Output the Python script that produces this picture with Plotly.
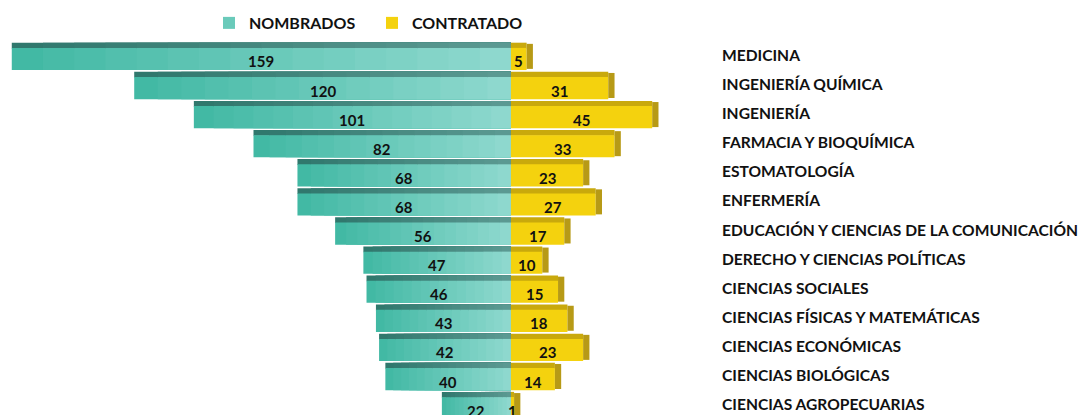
import plotly.graph_objects as go

# datos
categorias = [
    "MEDICINA",
    "INGENIERÍA QUÍMICA",
    "INGENIERÍA",
    "FARMACIA Y BIOQUÍMICA",
    "ESTOMATOLOGÍA",
    "ENFERMERÍA",
    "EDUCACIÓN Y CIENCIAS DE LA COMUNICACIÓN",
    "DERECHO Y CIENCIAS POLÍTICAS",
    "CIENCIAS SOCIALES",
    "CIENCIAS FÍSICAS Y MATEMÁTICAS",
    "CIENCIAS ECONÓMICAS",
    "CIENCIAS BIOLÓGICAS",
    "CIENCIAS AGROPECUARIAS",
]
nombrados = [159, 120, 101, 82, 68, 68, 56, 47, 46, 43, 42, 40, 22]
contratados = [5, 31, 45, 33, 23, 27, 17, 10, 15, 18, 23, 14, 1]

FONT = "Lato"
N_SEG = 16          # tramos para simular el degradado
PROF = 2.0          # profundidad del efecto 3D (en unidades del eje x)


def mezcla(c1, c2, t):
    a = [int(c1[i:i + 2], 16) for i in (1, 3, 5)]
    b = [int(c2[i:i + 2], 16) for i in (1, 3, 5)]
    return "rgb({},{},{})".format(*[round(x + (y - x) * t) for x, y in zip(a, b)])


fig = go.Figure()

# barras NOMBRADOS (hacia la izquierda), degradado por tramos superpuestos
for j in range(N_SEG):
    t = (j + 0.5) / N_SEG
    base = [-v + v * j / N_SEG for v in nombrados]
    largo = [v * (1 - j / N_SEG) for v in nombrados]
    # cara superior (bisel)
    fig.add_trace(go.Bar(
        y=categorias, x=largo, base=base, orientation="h",
        offset=-0.44, width=0.2,
        marker=dict(color=mezcla("#2f776c", "#5c9a93", t), line_width=0),
        showlegend=False, hoverinfo="skip",
    ))
    # cara frontal
    fig.add_trace(go.Bar(
        y=categorias, x=largo, base=base, orientation="h",
        offset=-0.26, width=0.76,
        marker=dict(color=mezcla("#40b8a3", "#90d9cf", t), line_width=0),
        name="NOMBRADOS", showlegend=(j == N_SEG // 2),
        legendrank=1, hoverinfo="skip",
    ))

# barras CONTRATADO (hacia la derecha)
fig.add_trace(go.Bar(
    y=categorias, x=contratados, base=0, orientation="h",
    offset=-0.44, width=0.2,
    marker=dict(color="#c9a90c", line_width=0),
    showlegend=False, hoverinfo="skip",
))
fig.add_trace(go.Bar(
    y=categorias, x=contratados, base=0, orientation="h",
    offset=-0.26, width=0.76,
    marker=dict(color="#f4d20e", line_width=0),
    name="CONTRATADO", legendrank=2, hoverinfo="skip",
))
# lateral del efecto 3D
fig.add_trace(go.Bar(
    y=categorias, x=[PROF] * len(contratados), base=contratados, orientation="h",
    offset=-0.4, width=0.86,
    marker=dict(color="#b79a16", line_width=0),
    showlegend=False, hoverinfo="skip",
))

# etiquetas de valores
for cat, n, c in zip(categorias, nombrados, contratados):
    fig.add_annotation(x=-n / 2, y=cat, text=str(n), showarrow=False, yshift=-6,
                       font=dict(family=FONT, size=15, color="#111111", weight="bold"))
    fig.add_annotation(x=c / 2, y=cat, text=str(c), showarrow=False, yshift=-6,
                       font=dict(family=FONT, size=15, color="#111111", weight="bold"))

# la página añade ~8 px de margen al cuerpo: se compensa en márgenes y rangos
fig.update_layout(
    width=1090, height=415,
    barmode="overlay",
    paper_bgcolor="white", plot_bgcolor="white",
    margin=dict(l=0, r=383, t=30, b=0, autoexpand=False),
    font=dict(family=FONT, size=15, color="#111111", weight="bold"),
    legend=dict(
        orientation="h", xref="container", yref="container",
        x=0.1844, y=0.9639, xanchor="left", yanchor="middle",
        font=dict(family=FONT, size=16, color="#111111", weight="bold"),
        entrywidth=118, traceorder="normal",
        bgcolor="rgba(0,0,0,0)",
    ),
    xaxis=dict(range=[-160.2, 65.0], visible=False, fixedrange=True),
    yaxis=dict(
        categoryorder="array", categoryarray=categorias,
        range=[12.629, -0.601], side="right",
        showgrid=False, zeroline=False, showline=False, ticks="",
        ticklabelstandoff=6,
        tickfont=dict(family=FONT, size=15.6, color="#111111", weight="bold"),
    ),
    showlegend=True,
)

fig.write_html("out.html")
